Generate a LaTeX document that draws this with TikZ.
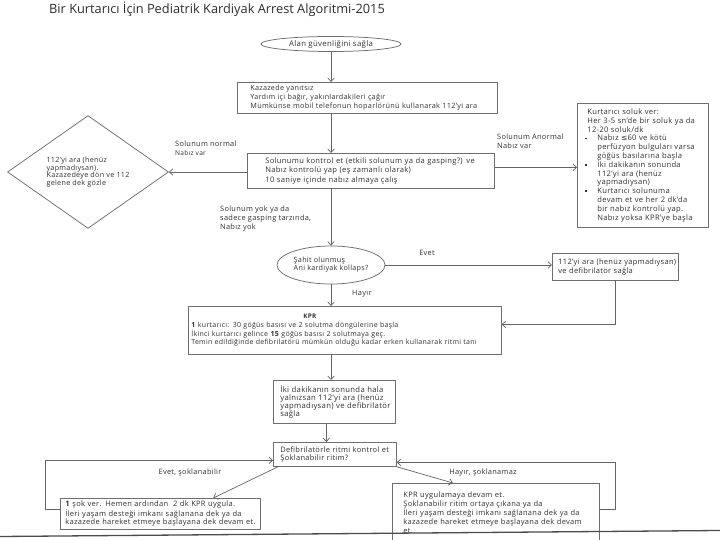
\documentclass[tikz,border=0pt]{standalone}
\usepackage{fontspec}
\setmainfont{Open Sans}[LetterSpace=4]
\newfontfamily\titlefont{Open Sans}
\newfontfamily\djv{DejaVu Sans}
\usetikzlibrary{arrows.meta,shapes.geometric}
\definecolor{bordc}{RGB}{110,110,110}
\definecolor{linec}{RGB}{100,100,100}
\definecolor{txtc}{RGB}{50,50,50}
\definecolor{titlec}{RGB}{45,45,45}
\newcommand\xl[1]{\mbox{#1}}
\newcommand\fz[2]{\fontsize{#1}{#2}\selectfont}
\newcommand\mysq{\makebox[10pt][l]{\hspace{-2.5pt}\raisebox{1.5pt}{\rule{1.8pt}{1.8pt}}}}
\newcommand\myind{\hspace*{10pt}}
\begin{document}
\begin{tikzpicture}[x=1pt,y=-1pt,
  box/.style={draw=bordc, line width=0.75pt, anchor=north west, align=left, inner ysep=0pt, text=txtc},
  oval/.style={draw=bordc, line width=0.75pt, ellipse, inner sep=0pt, text=txtc},
  arr/.style={draw=linec, line width=0.7pt, -{Straight Barb[length=3.5pt,width=6.5pt]}},
  lbl/.style={font=\fz{7.4}{9}, text=txtc, align=left, inner sep=0pt}]
\useasboundingbox (0,0) rectangle (720,540);
\fill[white] (0,0) rectangle (720,540);

\node[font=\titlefont\fz{12.8}{15}, text=titlec, inner sep=0pt] (title) at (217,9) {Bir Kurtarıcı İçin Pediatrik Kardiyak Arrest Algoritmi-2015};

\node[oval, minimum width=140, minimum height=15, font=\fz{7.8}{9}] (e1) at (331,44) {Alan güvenliğini sağla};

\node[box, inner xsep=13, text width=234, minimum height=31, font=\fz{7.2}{9}] (b1) at (237,82)
 {\xl{Kazazede yanıtsız}\\\xl{Yardım içi bağır, yakınlardakileri çağır}\\\xl{\fz{7.3}{9}Mümkünse mobil telefonun hoparlörünü kullanarak 112'yi ara}};

\node[box, inner xsep=18, text width=211, minimum height=35, font=\fz{7.6}{9.5}] (b2) at (247,153)
 {\xl{Solunumu kontrol et (etkili solunum ya da gasping?) ve}\\\xl{Nabız kontrolü yap (eş zamanlı olarak)}\\\xl{10 saniye içinde nabız almaya çalış}};

\node[draw=bordc, line width=0.75pt, diamond, minimum width=161, minimum height=96, inner sep=0pt, align=left, text=txtc, font=\fz{7.2}{7.6}] (dia) at (88,172)
 {112'yi ara (henüz\\yapmadıysan).\\Kazazedeye dön ve 112\\gelene dek gözle};

\node[box, inner xsep=10, text width=111, minimum height=124, font=\fz{7.6}{8.8}] (b3) at (577,103)
 {\xl{Kurtarıcı soluk ver:}\\
  \xl{Her 3-5 sn'de bir soluk ya da}\\
  \xl{12-20 soluk/dk}\\
  \xl{\mysq Nabız {\djv ≤}60 ve kötü}\\
  \xl{\myind perfüzyon bulguları varsa}\\
  \xl{\myind göğüs basılarına başla}\\
  \xl{\mysq İki dakikanın sonunda}\\
  \xl{\myind 112'yi ara (henüz}\\
  \xl{\myind yapmadıysan)}\\
  \xl{\mysq Kurtarıcı solunuma}\\
  \xl{\myind devam et ve her 2 dk'da}\\
  \xl{\myind bir nabız kontrolü yap.}\\
  \xl{\myind Nabız yoksa KPR'ye başla}};

\node[oval, minimum width=108, minimum height=38, align=left, font=\fz{7.2}{8}] (e2) at (331,265)
 {Şahit olunmuş\\Ani kardiyak kollaps?};

\node[box, inner xsep=6, text width=114, minimum height=27, font=\fz{7.5}{9}] (b4) at (552,253)
 {\xl{112'yi ara (henüz yapmadıysan)}\\\xl{ve defibrilatör sağla}};

\node[box, inner xsep=3, text width=307, minimum height=48, font=\fz{7}{8.6}] (kpr) at (188,306)
 {\xl{\hspace*{112pt}{\fz{6.3}{8.6}\textbf{KPR}}}\\
  \xl{\textbf{1} kurtarıcı: 30 göğüs basısı ve 2 solutma döngülerine başla}\\
  \xl{İkinci kurtarıcı gelince \textbf{15} göğüs basısı 2 solutmaya geç.}\\
  \xl{Temin edildiğinde defibrilatörü mümkün olduğu kadar erken kullanarak ritmi tanı}};

\node[box, inner xsep=7, text width=108, minimum height=43, font=\fz{7.7}{8.2}] (b5) at (273,380)
 {\xl{İki dakikanın sonunda hala}\\\xl{yalnızsan 112'yi ara (henüz}\\\xl{yapmadıysan) ve defibrilatör}\\\xl{sağla}};

\node[box, inner xsep=7, text width=109, minimum height=24, font=\fz{7.5}{8.2}] (b6) at (273,442)
 {\xl{Defibrilatörle ritmi kontrol et}\\\xl{Şoklanabilir ritim?}};

\node[box, inner xsep=5, text width=190, minimum height=31, font=\fz{7.5}{8.2}] (b7) at (60,498)
 {\xl{\textbf{1} şok ver. Hemen ardından\ \ 2 dk KPR uygula.}\\\xl{İleri yaşam desteği imkanı sağlanana dek ya da}\\\xl{kazazede hareket etmeye başlayana dek devam et.}};

\node[box, inner xsep=11, text width=185, minimum height=58, font=\fz{7.5}{9}] (b8) at (392,483)
 {\xl{KPR uygulamaya devam et.}\\\xl{Şoklanabilir ritim ortaya çıkana ya da}\\\xl{İleri yaşam desteği imkanı sağlanana dek ya da}\\\xl{kazazede hareket etmeye başlayana dek devam}\\\xl{et.}};

\draw[line width=1.3pt, color=black!70] (0,536.5) -- (720,530.5);

\node[lbl, anchor=west] (l1) at (175,148) {Solunum normal\\{\fz{6.6}{9}Nabız var}};
\node[lbl, anchor=west] (l2) at (497,141.5) {Solunum Anormal\\Nabız var};
\node[lbl, anchor=west] (l3) at (220,219) {Solunum yok ya da\\sadece gasping tarzında,\\Nabız yok};
\node[lbl] (l4) at (427,253) {Evet};
\node[lbl, anchor=west] (l5) at (352,294) {Hayır};
\node[lbl] (l6) at (190,473) {Evet, şoklanabilir};
\node[lbl] (l7) at (483,473) {Hayır, şoklanamaz};

\draw[arr] (e1.south) -- (b1.north -| e1.south);
\draw[arr] (b1.south -| e1.south) -- (b2.north -| e1.south);
\draw[arr] (dia.east -| b2.west) -- (dia.east);
\draw[arr] ([yshift=3.5pt]b2.east) -- ([yshift=3.5pt]b2.east -| b3.west);
\draw[arr] (b2.south -| e1.south) -- (e2.north);
\draw[arr] (e2.east) -- (e2.east -| b4.west);
\draw[arr] (e2.south) -- (kpr.north -| e2.south);
\draw[arr] (b4.south) |- ([yshift=6pt]kpr.east);
\draw[arr] (kpr.south -| e1.south) -- (b5.north -| e1.south);
\draw[arr] ([xshift=-8pt]b5.south) -- ([xshift=-8pt]b5.south |- b6.north);
\draw[arr] ([xshift=5pt]b6.south west) -- ([xshift=53pt]b7.north);
\draw[arr] ([yshift=5pt]b7.west) -- ++(-15,0) |- ([yshift=-6pt]b6.west);
\draw[arr] (b6.south east) -- ([xshift=-43pt]b8.north);
\draw[arr] ([yshift=3pt]b8.east) -- ++(16,0) |- ([yshift=-8pt]b6.east);
\end{tikzpicture}
\end{document}
